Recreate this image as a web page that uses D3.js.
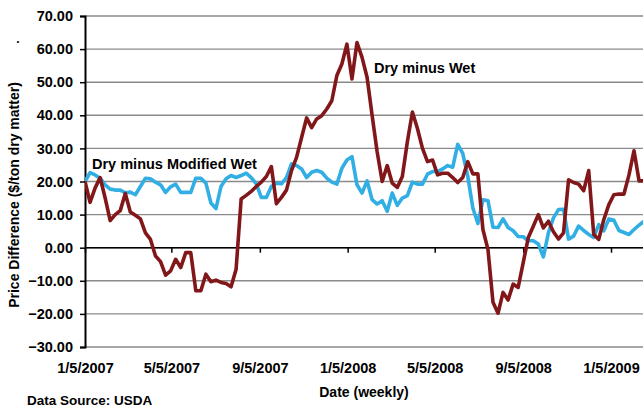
<!DOCTYPE html>
<html><head><meta charset="utf-8">
<script src="https://cdn.jsdelivr.net/npm/d3@7"></script>
<style>
body{margin:0;background:#fff;}
text{font-family:"Liberation Sans",Arial,sans-serif;font-weight:bold;fill:#000;}
</style></head>
<body><svg id="c" width="643" height="408"></svg>
<script>
const startDate = "2007-01-05";
const dryMinusWet = [20,13.7,18,21.2,15,8.2,10,11.2,16.4,10.8,9.8,8.7,4.5,2.5,-2.5,-4.2,-8.3,-7,-3.5,-6,-1.5,-1.5,-13,-13,-8,-10.3,-9.8,-10.5,-10.8,-11.8,-6.5,14.7,15.8,17,18.5,19.8,21.5,24.5,13.3,15.2,17.4,23.3,27.3,33.3,39.2,36.3,38.9,39.9,41.9,44.4,52,55.5,61.5,51,62,57.5,51.5,40,29,20,24.8,19.5,18.2,21.5,32,41,36,30,26,26.5,22,22.5,22.5,21.2,19.7,21.2,26,22.3,22.3,5.5,-0.5,-16.5,-19.8,-13.5,-15.8,-11,-12,-4.5,3,6.5,10,6,8,4.8,2.6,4.5,20.5,19.7,19.2,17.2,23.3,4,2.5,8.5,13,16,16.2,16.2,22,29.3,20.2,20.2];
const dryMinusModWet = [20,22.7,22,21,19,17.7,17.4,17.4,16.6,16.8,16,18.5,21,20.8,19.8,19,16.7,18.4,19.2,16.7,16.7,16.7,21,21,19.5,13.5,11.8,18.5,20.8,21.8,21.2,21.8,22.5,21.2,19.3,15.2,15.2,18.5,19.5,19.3,21.2,25.3,24.8,23.8,21.2,22.8,23.3,22.8,21,19.8,19.2,24,26.5,27.5,19,16.5,20.2,14.5,13.2,14.2,11,16.5,12.8,15,15.7,19.8,19.2,19.2,22.2,23,23,23.8,24.8,24.3,31.2,28.5,21.5,12,7.3,14.5,14.2,6.2,6.1,8.7,6.1,5.1,3.4,3.3,2.1,2.1,1.1,-2.8,4.5,9,11.5,11.6,2.6,3.5,6.5,5.2,4,3.1,7,5.1,8.7,8.3,5.2,4.6,4,5.5,6.8,8];
const yTicks = [-30,-20,-10,0,10,20,30,40,50,60,70];
const xTickDates = ["2007-01-05","2007-05-05","2007-09-05","2008-01-05","2008-05-05","2008-09-05","2009-01-05"];
const seriesLabels = ["Dry minus Wet","Dry minus Modified Wet"];

const parse = d3.utcParse("%Y-%m-%d");
const t0 = parse(startDate);
const dates = dryMinusWet.map((_, i) => d3.utcDay.offset(t0, 7*i));
const tickDates = xTickDates.map(parse);

const svg = d3.select("#c");
const L = 85, R = 643, T = 16, B = 347;
const x = d3.scaleUtc().domain([tickDates[0], tickDates[6]]).range([L, 611]);
const y = d3.scaleLinear().domain([-30, 70]).range([B, T]);

// gridlines
svg.append("g").selectAll("line").data(yTicks).join("line")
  .attr("x1", L).attr("x2", R).attr("y1", d => y(d)).attr("y2", d => y(d))
  .attr("stroke", "#8a8a8a").attr("stroke-width", 1.4);

// y axis
const ya = svg.append("g").attr("transform", `translate(${L},0)`)
  .call(d3.axisLeft(y).tickValues(yTicks).tickSize(5).tickPadding(7).tickFormat(d3.format(".2f")));
ya.select(".domain").attr("stroke", "#000").attr("stroke-width", 2);
ya.selectAll(".tick line").attr("stroke", "#000").attr("stroke-width", 1.5);
ya.selectAll("text").style("font-size", "14.5px").style("font-family", "Liberation Sans, Arial, sans-serif").style("font-weight", "bold").attr("fill", "#000");

// x axis line at zero with ticks
const xa = svg.append("g").attr("transform", `translate(0,${y(0)})`)
  .call(d3.axisBottom(x).tickValues(tickDates).tickSize(5).tickFormat(""));
xa.select(".domain").attr("d", `M${L},0H${R}`).attr("stroke", "#000").attr("stroke-width", 1.6);
xa.selectAll(".tick line").attr("stroke", "#000").attr("stroke-width", 1.5);

// x labels at bottom
const xl = svg.append("g").attr("transform", `translate(0,${B})`)
  .call(d3.axisBottom(x).tickValues(tickDates).tickSize(0).tickPadding(16).tickFormat(d3.utcFormat("%-m/%-d/%Y")));
xl.select(".domain").remove();
xl.selectAll("text").style("font-size", "14.5px").style("font-family", "Liberation Sans, Arial, sans-serif").style("font-weight", "bold").attr("fill", "#000");

// lines
const clip = svg.append("clipPath").attr("id", "cp").append("rect").attr("x", L).attr("y", 0).attr("width", R - L).attr("height", 408);
const line = d3.line().x((d, i) => x(dates[i])).y(d => y(d));
svg.append("path").attr("clip-path", "url(#cp)").datum(dryMinusModWet).attr("d", line)
  .attr("fill", "none").attr("stroke", "#31aee4").attr("stroke-width", 3.6).attr("stroke-linejoin", "round");
svg.append("path").attr("clip-path", "url(#cp)").datum(dryMinusWet).attr("d", line)
  .attr("fill", "none").attr("stroke", "#821719").attr("stroke-width", 3.6).attr("stroke-linejoin", "round");

// annotations
svg.append("text").attr("x", 374).attr("y", 73).style("font-size", "14.5px").text(seriesLabels[0]);
svg.append("text").attr("x", 92).attr("y", 168.5).style("font-size", "14.5px").text(seriesLabels[1]);

// axis titles
svg.append("text").attr("transform", "translate(19,195) rotate(-90)").attr("text-anchor", "middle")
  .style("font-size", "14px").text("Price Difference ($/ton dry matter)");
svg.append("text").attr("x", 18).attr("y", 43).attr("text-anchor", "middle").style("font-size", "12px").text(".");
svg.append("text").attr("x", 364).attr("y", 397).attr("text-anchor", "middle").style("font-size", "14px").text("Date (weekly)");
svg.append("text").attr("x", 27).attr("y", 405).style("font-size", "13.5px").text("Data Source: USDA");
</script></body></html>
